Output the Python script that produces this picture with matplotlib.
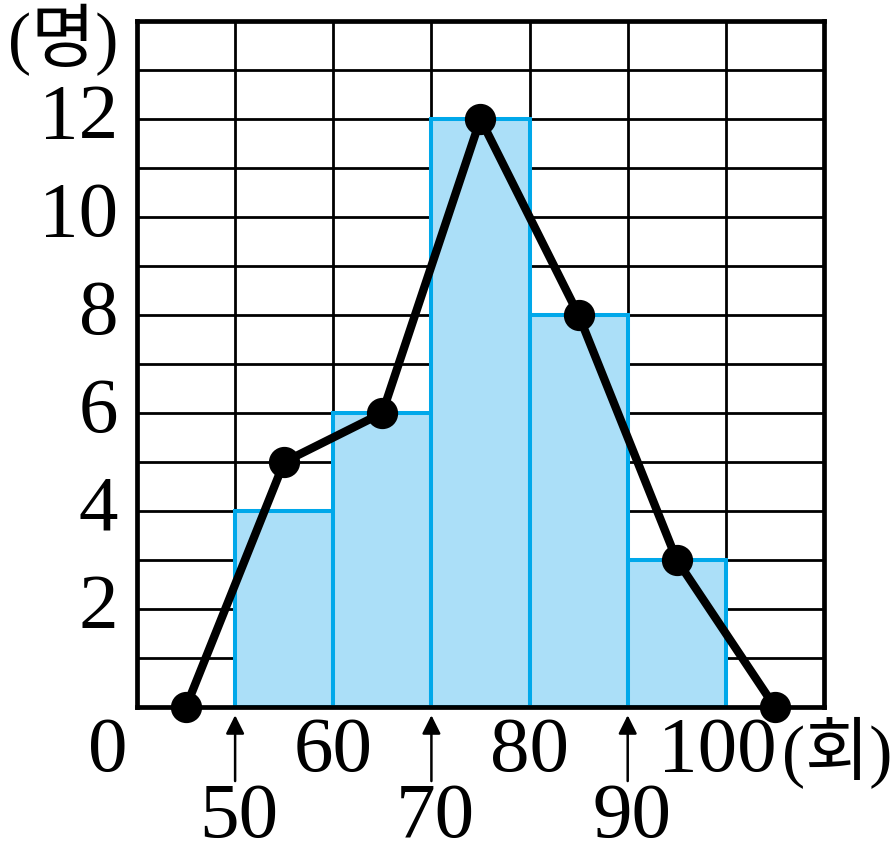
import numpy as np
import matplotlib.pyplot as plt
import matplotlib.transforms as mtransforms

# histogram classes (lower edge) and counts
bin_left = [50, 60, 70, 80, 90]
counts = [4, 6, 12, 8, 3]

# frequency polygon points (class midpoints, plus empty end classes)
poly_x = [45, 55, 65, 75, 85, 95, 105]
poly_y = [0, 5, 6, 12, 8, 3, 0]

y_labels = [2, 4, 6, 8, 10, 12]
x_upper = [60, 80, 100]
x_lower = [50, 70, 90]

serif = ['Liberation Serif', 'Noto Sans CJK KR']
fs = 57

fig = plt.figure(figsize=(8.94, 8.65), dpi=100)
ax = fig.add_axes([0.1532, 0.1827, 0.7685, 0.7930])

ax.set_xlim(40, 110)
ax.set_ylim(0, 14)
ax.set_xticks(range(40, 111, 10))
ax.set_yticks(range(0, 15))
ax.grid(True, color='black', lw=2.0, zorder=0)
ax.set_axisbelow(True)
ax.tick_params(length=0, labelbottom=False, labelleft=False)
for s in ax.spines.values():
    s.set_linewidth(3.4)
    s.set_zorder(5)

ax.bar(bin_left, counts, width=10, align='edge', color='#abdff8',
       edgecolor='#00a8ea', linewidth=2.9, zorder=2)

ax.plot(poly_x, poly_y, color='black', lw=6, marker='o', ms=21.5,
        zorder=6, clip_on=False)

# labels
tr_y = mtransforms.blended_transform_factory(ax.transAxes, ax.transData)
for v in y_labels:
    ax.text(-0.027, v, str(v), transform=tr_y, ha='right', va='center',
            fontsize=fs, family=serif)

tr_x = mtransforms.blended_transform_factory(ax.transData, ax.transAxes)
for v in x_upper:
    xpos = v if v != 100 else 99.1
    ax.text(xpos, -0.066, str(v), transform=tr_x, ha='center', va='center',
            fontsize=fs, family=serif)
for v in x_lower:
    ax.text(v + 0.4, -0.162, str(v), transform=tr_x, ha='center', va='center',
            fontsize=fs, family=serif)
    ax.annotate('', xy=(v, -0.012), xytext=(v, -0.108),
                xycoords=tr_x, textcoords=tr_x,
                arrowprops=dict(arrowstyle='-|>', color='black', lw=1.8,
                                mutation_scale=28, shrinkA=0, shrinkB=0))

ax.text(37.0, -0.066, '0', transform=tr_x, ha='center', va='center',
        fontsize=fs, family=serif)
ax.text(111.3, -0.066, '(회)', transform=tr_x, ha='center', va='center',
        fontsize=fs * 0.88, family=serif)
ax.text(-0.108, 0.972, '(명)', transform=ax.transAxes, ha='center',
        va='center', fontsize=fs * 0.88, family=serif)

fig.savefig('out.png', dpi=100)
